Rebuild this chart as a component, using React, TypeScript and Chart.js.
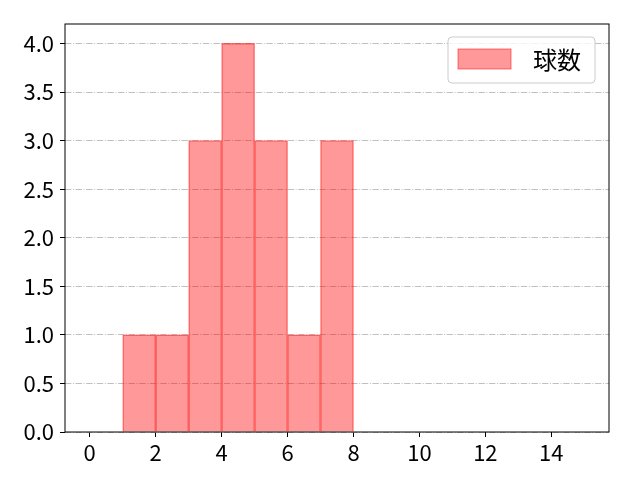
import { useEffect, useRef } from 'react';
import { Chart, registerables } from 'chart.js';

Chart.register(...registerables);

const binStarts = [1, 2, 3, 4, 5, 6, 7];
const counts = [1, 1, 3, 4, 3, 1, 3];
const seriesLabel = '球数';
const xMin = -0.75;
const xMax = 15.75;
const yMax = 4.2;

const FONT = '"Noto Sans CJK JP", "Noto Sans", sans-serif';

const framePlugin = {
  id: 'frameAndLegend',
  afterDraw(chart: any) {
    const { ctx, chartArea } = chart;
    const { left, top, right, bottom } = chartArea;
    ctx.save();
    ctx.strokeStyle = '#000';
    ctx.lineWidth = 1;
    ctx.strokeRect(left, top, right - left, bottom - top);

    // legend box, top right inside the plot
    const ds = chart.data.datasets[0];
    const bx = right - 161;
    const by = top + 13;
    const bw = 147;
    const bh = 46;
    ctx.beginPath();
    ctx.roundRect(bx, by, bw, bh, 4);
    ctx.fillStyle = 'rgba(255,255,255,0.8)';
    ctx.fill();
    ctx.strokeStyle = '#cccccc';
    ctx.lineWidth = 1;
    ctx.stroke();

    ctx.fillStyle = ds.backgroundColor;
    ctx.fillRect(bx + 10, by + 12, 53, 20);
    ctx.strokeStyle = ds.borderColor;
    ctx.strokeRect(bx + 10, by + 12, 53, 20);

    ctx.fillStyle = '#000';
    ctx.font = `24px ${FONT}`;
    ctx.textBaseline = 'middle';
    ctx.textAlign = 'left';
    ctx.fillText(ds.label, bx + 85, by + 23);
    ctx.restore();
  }
};

export default function App() {
  const ref = useRef<HTMLCanvasElement | null>(null);

  useEffect(() => {
    if (!ref.current) return;
    Chart.defaults.font.family = FONT;
    const chart = new Chart(ref.current, {
      type: 'bar',
      data: {
        datasets: [
          {
            label: seriesLabel,
            data: binStarts.map((x, i) => ({ x: x + 0.5, y: counts[i] })),
            backgroundColor: 'rgba(255,0,0,0.4)',
            borderColor: 'rgba(255,0,0,0.5)',
            borderWidth: 0.7,
            barPercentage: 1,
            categoryPercentage: 1
          }
        ]
      },
      options: {
        animation: false,
        responsive: true,
        maintainAspectRatio: false,
        layout: { padding: { left: 0, top: 24, right: 31, bottom: 0 } },
        plugins: {
          legend: { display: false },
          tooltip: { enabled: false }
        },
        scales: {
          x: {
            type: 'linear',
            min: xMin,
            max: xMax,
            offset: false,
            afterFit: (scale: any) => { scale.height = 48; },
            ticks: {
              stepSize: 2,
              includeBounds: false,
              color: '#000',
              font: { size: 22 },
              padding: 2,
              maxRotation: 0
            },
            grid: { drawOnChartArea: false, tickLength: 5, tickColor: '#000', offset: false },
            border: { display: false }
          },
          y: {
            min: 0,
            max: yMax,
            afterFit: (scale: any) => { scale.width = 65; },
            ticks: {
              stepSize: 0.5,
              includeBounds: false,
              color: '#000',
              font: { size: 22 },
              padding: 6,
              callback: (v: any) => Number(v).toFixed(1)
            },
            grid: { color: '#b0b0b0', lineWidth: 0.8, tickLength: 5, tickColor: '#000', tickWidth: 1 },
            border: { display: false, dash: [6.4, 1.6, 1, 1.6] }
          }
        }
      },
      plugins: [framePlugin]
    });
    return () => chart.destroy();
  }, []);

  return (
    <div style={{ position: 'absolute', left: 0, top: 0, width: 640, height: 480, background: '#fff' }}>
      <canvas ref={ref} aria-label="球数のヒストグラム" />
    </div>
  );
}
